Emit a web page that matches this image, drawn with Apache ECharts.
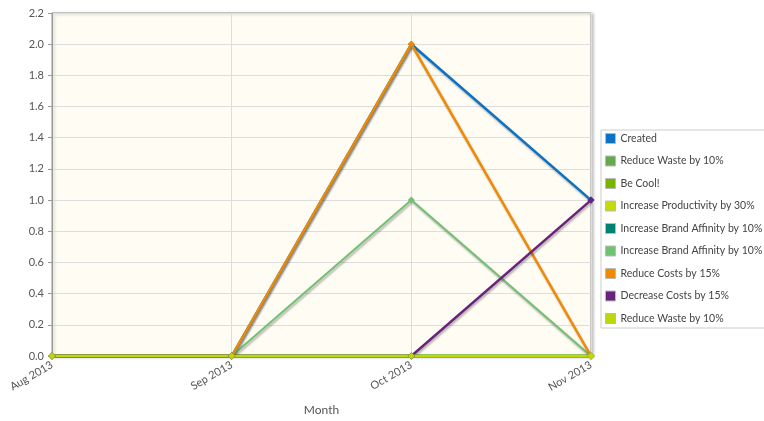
<!DOCTYPE html>
<html>
<head>
<meta charset="utf-8">
<script src="https://cdn.jsdelivr.net/npm/echarts@6/dist/echarts.min.js"></script>
<style>
  html, body { margin: 0; padding: 0; background: #fff; }
  #chart { width: 764px; height: 421px; }
</style>
</head>
<body>
<div id="chart"></div>
<script>
var months = ['Aug 2013', 'Sep 2013', 'Oct 2013', 'Nov 2013'];
var seriesNames = ['Created', 'Reduce Waste by 10%', 'Be Cool!', 'Increase Productivity by 30%',
  'Increase Brand Affinity by 10%', 'Increase Brand Affinity by 10% ', 'Reduce Costs by 15%',
  'Decrease Costs by 15%', 'Reduce Waste by 10% '];
var created = [0, 0, 2, 1];
var reduceWaste = [0, 0, 0, 0];
var beCool = [0, 0, 0, 0];
var increaseProductivity = [0, 0, 0, 0];
var brandAffinity1 = [0, 0, 0, 0];
var brandAffinity2 = [0, 0, 1, 0];
var reduceCosts = [0, 0, 2, 0];
var decreaseCosts = [0, 0, 0, 1];
var reduceWaste2 = [0, 0, 0, 0];
var yTicks = [0, 2.2, 0.2];

var colors = ['#0b72c6', '#66a84e', '#78b400', '#c3da0c', '#008272', '#72c173', '#f08a00', '#6a237c', '#bcd80a'];
var allData = [created, reduceWaste, beCool, increaseProductivity, brandAffinity1, brandAffinity2, reduceCosts, decreaseCosts, reduceWaste2];

var chart = echarts.init(document.getElementById('chart'));
var font = 'Lato';

var series = seriesNames.map(function (name, i) {
  return {
    name: name,
    type: 'line',
    data: allData[i],
    symbol: 'diamond',
    symbolSize: 7,
    color: colors[i],
    lineStyle: { width: i === 5 ? 2 : 2.5, shadowColor: 'rgba(0,0,0,0.3)', shadowBlur: 2, shadowOffsetX: 1, shadowOffsetY: 2 },
    itemStyle: { color: colors[i] }
  };
});

chart.setOption({
  animation: false,
  grid: { left: 52, right: 173, top: 13, bottom: 63, show: true, backgroundColor: '#fffcf4', borderColor: '#999', borderWidth: 1,
    shadowColor: 'rgba(0,0,0,0.25)', shadowBlur: 3, shadowOffsetX: 2, shadowOffsetY: 1 },
  legend: {
    orient: 'vertical', left: 601, top: 130,
    padding: [3, 2, 4, 4], itemGap: 11.5, itemWidth: 10, itemHeight: 10, icon: 'rect',
    backgroundColor: '#fff', borderColor: '#ccc', borderWidth: 1,
    textStyle: { fontFamily: font, fontSize: 10.5, color: '#444' },
    data: seriesNames.map(function (n, i) {
      return { name: n, itemStyle: { color: colors[i], borderColor: '#bbb', borderWidth: 1 } };
    })
  },
  xAxis: {
    type: 'category', data: months, boundaryGap: false,
    name: 'Month', nameLocation: 'middle', nameGap: 48,
    nameTextStyle: { fontFamily: font, fontSize: 12, color: '#555' },
    axisLine: { show: false },
    axisTick: { show: false },
    axisLabel: { rotate: 30, fontFamily: font, fontSize: 11, color: '#555', margin: 8 },
    splitLine: { show: true, lineStyle: { color: '#ddd' } }
  },
  yAxis: {
    type: 'value', min: yTicks[0], max: yTicks[1], interval: yTicks[2],
    axisLine: { show: true, lineStyle: { color: '#999' } },
    axisTick: { show: true, length: 4, lineStyle: { color: '#999' } },
    axisLabel: { fontFamily: font, fontSize: 11, color: '#555', margin: 8, formatter: function (v) { return v.toFixed(1); } },
    splitLine: { lineStyle: { color: '#ddd' } }
  },
  series: series
});
</script>
</body>
</html>
